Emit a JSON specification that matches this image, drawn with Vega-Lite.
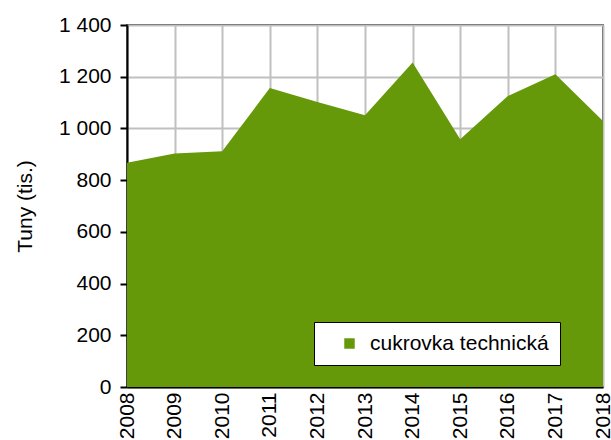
{
  "$schema": "https://vega.github.io/schema/vega-lite/v6.json",
  "width": 476,
  "height": 362,
  "autosize": {"type": "none"},
  "padding": {"left": 127, "top": 25, "right": 8, "bottom": 53},
  "background": "white",
  "data": {"values": [
    {"year": 2008, "value": 867, "series": "cukrovka technická"},
    {"year": 2009, "value": 903, "series": "cukrovka technická"},
    {"year": 2010, "value": 912, "series": "cukrovka technická"},
    {"year": 2011, "value": 1156, "series": "cukrovka technická"},
    {"year": 2012, "value": 1102, "series": "cukrovka technická"},
    {"year": 2013, "value": 1051, "series": "cukrovka technická"},
    {"year": 2014, "value": 1255, "series": "cukrovka technická"},
    {"year": 2015, "value": 958, "series": "cukrovka technická"},
    {"year": 2016, "value": 1125, "series": "cukrovka technická"},
    {"year": 2017, "value": 1210, "series": "cukrovka technická"},
    {"year": 2018, "value": 1029, "series": "cukrovka technická"}
  ]},
  "config": {
    "font": "Liberation Sans",
    "view": {"stroke": "black", "strokeWidth": 1.5}
  },
  "mark": {"type": "area", "opacity": 1},
  "encoding": {
    "x": {
      "field": "year", "type": "quantitative",
      "scale": {"domain": [2008, 2018], "nice": false, "zero": false},
      "axis": {
        "title": null, "values": [2008, 2009, 2010, 2011, 2012, 2013, 2014, 2015, 2016, 2017, 2018],
        "format": "d", "labelAngle": -90, "labelAlign": "right", "labelBaseline": "middle",
        "labelFontSize": 21, "labelColor": "black", "labelPadding": 5,
        "ticks": false, "domainColor": "black", "domainWidth": 2,
        "grid": true, "gridColor": "#c0c0c0", "gridWidth": 2,
        "labelOverlap": false, "labelFlush": false
      }
    },
    "y": {
      "field": "value", "type": "quantitative",
      "scale": {"domain": [0, 1400], "nice": false},
      "axis": {
        "title": "Tuny (tis.)", "titleFontSize": 21, "titleFontWeight": "normal", "titleColor": "black",
        "titleX": -102, "titleY": 181, "titleAngle": -90, "titleAlign": "center", "titleBaseline": "middle",
        "values": [0, 200, 400, 600, 800, 1000, 1200, 1400],
        "labelExpr": "replace(format(datum.value, ','), ',', ' ')",
        "labelFontSize": 21, "labelColor": "black", "labelPadding": 9,
        "tickSize": 7, "tickColor": "black", "tickWidth": 2,
        "domainColor": "black", "domainWidth": 2,
        "grid": true, "gridColor": "#c0c0c0", "gridWidth": 2,
        "labelFlush": false
      }
    },
    "color": {
      "field": "series", "type": "nominal",
      "scale": {"range": ["#66990a"]},
      "legend": {
        "title": null, "orient": "none", "legendX": 187, "legendY": 297,
        "fillColor": "white", "strokeColor": "black", "padding": 11,
        "symbolType": "square", "symbolSize": 110, "symbolOffset": 14,
        "symbolStrokeWidth": 0, "labelFontSize": 21, "labelColor": "black",
        "labelOffset": 10, "labelLimit": 0
      }
    }
  }
}
